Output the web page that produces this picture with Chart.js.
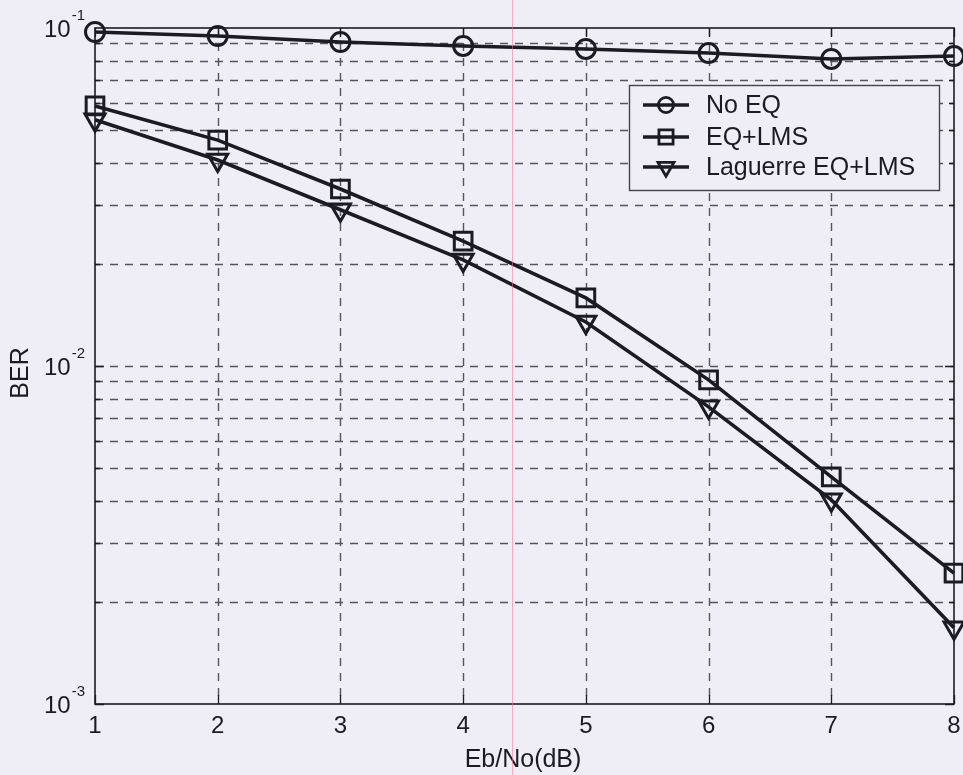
<!DOCTYPE html>
<html>
<head>
<meta charset="utf-8">
<script src="https://cdn.jsdelivr.net/npm/chart.js@4/dist/chart.umd.min.js"></script>
<style>
  html, body { margin: 0; padding: 0; background: #efeef7; }
  #wrap { width: 963px; height: 775px; }
</style>
</head>
<body>
<div id="wrap"><canvas id="c" width="963" height="775"></canvas></div>
<script>
// Eb/No points (dB)
const ebno = [1, 2, 3, 4, 5, 6, 7, 8];

// Bit error rate per receiver
const berNoEq = [0.0973, 0.0947, 0.0909, 0.0885, 0.0867, 0.0843, 0.0810, 0.0826];
const berLms = [0.0588, 0.0466, 0.0334, 0.0234, 0.0159, 0.0091, 0.0047, 0.00244];
const berLaguerre = [0.0535, 0.0407, 0.0290, 0.0206, 0.0135, 0.00757, 0.00402, 0.00168];

const seriesNames = ['No EQ', 'EQ+LMS', 'Laguerre EQ+LMS'];
const xTicks = [1, 2, 3, 4, 5, 6, 7, 8];
const yDecades = [-3, -2, -1];
const xTitle = 'Eb/No(dB)';
const yTitle = 'BER';

const INK = '#1b1b22';
const GRID = '#55555f';
const BG = '#efeef7';
const FONT = '"Liberation Sans", Arial, sans-serif';

const markers = [
  { pointStyle: 'circle', radius: 9.5, rotation: 0 },
  { pointStyle: 'rect', radius: 12.5, rotation: 0 },
  { pointStyle: 'triangle', radius: 11.5, rotation: 180 }
];

function toPoints(ys) { return ebno.map((x, i) => ({ x: x, y: ys[i] })); }

const datasets = [berNoEq, berLms, berLaguerre].map((ys, i) => ({
  label: seriesNames[i],
  data: toPoints(ys),
  borderColor: INK,
  borderWidth: 3.6,
  pointStyle: markers[i].pointStyle,
  pointRadius: markers[i].radius,
  pointRotation: markers[i].rotation,
  pointBorderWidth: 3,
  pointBorderColor: INK,
  pointBackgroundColor: 'rgba(0,0,0,0)',
  pointHoverRadius: markers[i].radius,
  tension: 0,
  fill: false,
  clip: false
}));

// Dashed grid, frame, ticks, labels and legend drawn on the canvas
const matlabAxes = {
  id: 'matlabAxes',
  beforeDraw(chart) {
    const ctx = chart.ctx;
    ctx.save();
    ctx.fillStyle = BG;
    ctx.fillRect(0, 0, chart.width, chart.height);
    ctx.restore();
  },
  beforeDatasetsDraw(chart) {
    const { ctx, chartArea: a, scales } = chart;
    const xs = scales.x, ys = scales.y;
    ctx.save();
    ctx.strokeStyle = GRID;
    ctx.lineWidth = 1.4;
    ctx.setLineDash([8, 7]);
    // vertical grid
    xTicks.forEach(v => {
      if (v === xTicks[0] || v === xTicks[xTicks.length - 1]) return;
      const px = Math.round(xs.getPixelForValue(v)) + 0.5;
      ctx.beginPath(); ctx.moveTo(px, a.top); ctx.lineTo(px, a.bottom); ctx.stroke();
    });
    // horizontal grid at decades and minor values
    for (let d = yDecades[0]; d < yDecades[yDecades.length - 1]; d++) {
      for (let m = 1; m <= 9; m++) {
        if (d === yDecades[0] && m === 1) continue;
        const py = Math.round(ys.getPixelForValue(m * Math.pow(10, d))) + 0.5;
        ctx.beginPath(); ctx.moveTo(a.left, py); ctx.lineTo(a.right, py); ctx.stroke();
      }
    }
    // frame and inward ticks
    ctx.strokeStyle = INK;
    ctx.lineWidth = 1.6;
    ctx.setLineDash([]);
    ctx.strokeRect(a.left, a.top, a.right - a.left, a.bottom - a.top);
    ctx.lineWidth = 1.3;
    xTicks.forEach(v => {
      const px = Math.round(xs.getPixelForValue(v)) + 0.5;
      ctx.beginPath();
      ctx.moveTo(px, a.bottom); ctx.lineTo(px, a.bottom - 9);
      ctx.moveTo(px, a.top); ctx.lineTo(px, a.top + 9);
      ctx.stroke();
    });
    for (let d = yDecades[0]; d < yDecades[yDecades.length - 1]; d++) {
      for (let m = 1; m <= 9; m++) {
        const py = Math.round(ys.getPixelForValue(m * Math.pow(10, d))) + 0.5;
        const len = m === 1 ? 9 : 5;
        ctx.beginPath();
        ctx.moveTo(a.left, py); ctx.lineTo(a.left + len, py);
        ctx.moveTo(a.right, py); ctx.lineTo(a.right - len, py);
        ctx.stroke();
      }
    }
    ctx.restore();
  },
  afterDraw(chart) {
    const { ctx, chartArea: a, scales } = chart;
    const xs = scales.x, ys = scales.y;
    ctx.save();
    // x tick labels
    ctx.fillStyle = INK;
    ctx.font = '24px ' + FONT;
    ctx.textAlign = 'center';
    ctx.textBaseline = 'alphabetic';
    xTicks.forEach(v => {
      ctx.fillText(String(v), xs.getPixelForValue(v), a.bottom + 29);
    });
    // y tick labels: 10 with superscript exponent
    yDecades.forEach(d => {
      const py = ys.getPixelForValue(Math.pow(10, d));
      const exp = String(d);
      ctx.textAlign = 'right';
      ctx.textBaseline = 'alphabetic';
      ctx.font = '15px ' + FONT;
      const ew = ctx.measureText(exp).width;
      const right = a.left - 10;
      ctx.fillText(exp, right, py - 8);
      ctx.font = '24px ' + FONT;
      ctx.fillText('10', right - ew - 1, py + 9);
    });
    // axis titles
    ctx.font = '25px ' + FONT;
    ctx.textAlign = 'center';
    ctx.textBaseline = 'alphabetic';
    ctx.fillText(xTitle, 523, 767);
    ctx.save();
    ctx.translate(28, 373);
    ctx.rotate(-Math.PI / 2);
    ctx.fillText(yTitle, 0, 0);
    ctx.restore();

    // legend box
    const lx = 629, ly = 85, lw = 310, lh = 105;
    ctx.fillStyle = BG;
    ctx.fillRect(lx, ly, lw, lh);
    ctx.strokeStyle = '#44444c';
    ctx.lineWidth = 1.4;
    ctx.strokeRect(lx + 0.5, ly + 0.5, lw, lh);
    const rows = [105, 137, 167];
    seriesNames.forEach((name, i) => {
      const ry = rows[i];
      ctx.strokeStyle = INK;
      ctx.lineWidth = 3.6;
      ctx.beginPath(); ctx.moveTo(643, ry); ctx.lineTo(689, ry); ctx.stroke();
      ctx.lineWidth = 2.8;
      ctx.fillStyle = 'rgba(0,0,0,0)';
      Chart.helpers.drawPoint(ctx, {
        pointStyle: markers[i].pointStyle,
        radius: markers[i].radius * 0.8,
        rotation: markers[i].rotation,
        borderWidth: 2.8
      }, 666, ry);
      ctx.fillStyle = INK;
      ctx.font = '25px ' + FONT;
      ctx.textAlign = 'left';
      ctx.textBaseline = 'middle';
      ctx.fillText(name, 706, ry + 1);
    });

    // thin pink vertical rule
    ctx.strokeStyle = 'rgba(240,120,140,0.55)';
    ctx.lineWidth = 1;
    ctx.beginPath(); ctx.moveTo(512.5, 0); ctx.lineTo(512.5, chart.height); ctx.stroke();
    ctx.restore();
  }
};

new Chart(document.getElementById('c'), {
  type: 'line',
  data: { datasets: datasets },
  options: {
    responsive: false,
    animation: false,
    layout: { autoPadding: false, padding: { left: 95, right: 9, top: 28, bottom: 71 } },
    plugins: { legend: { display: false }, tooltip: { enabled: false } },
    scales: {
      x: {
        type: 'linear', min: 1, max: 8,
        grid: { display: false, drawTicks: false },
        border: { display: false },
        ticks: { display: false },
        afterFit(s) { s.height = 0; }
      },
      y: {
        type: 'logarithmic', min: 0.001, max: 0.1,
        grid: { display: false, drawTicks: false },
        border: { display: false },
        ticks: { display: false },
        afterFit(s) { s.width = 0; }
      }
    }
  },
  plugins: [matlabAxes]
});
</script>
</body>
</html>
